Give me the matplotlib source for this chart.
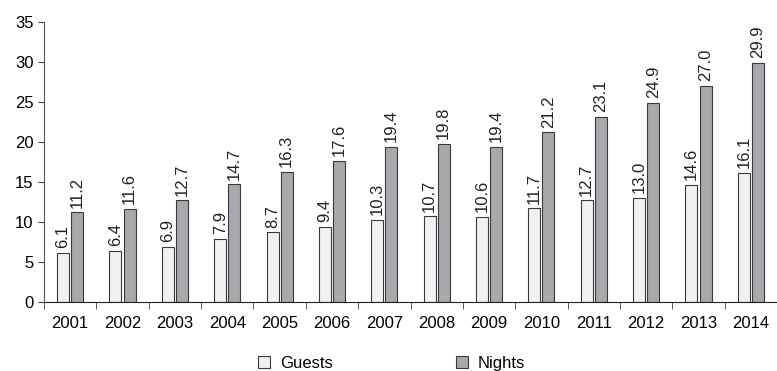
import numpy as np
import matplotlib.pyplot as plt
from matplotlib.ticker import FixedLocator

plt.rcParams['font.family'] = ['Liberation Sans', 'DejaVu Sans']

years = [str(y) for y in range(2001, 2015)]
guests = [6.1, 6.4, 6.9, 7.9, 8.7, 9.4, 10.3, 10.7, 10.6, 11.7, 12.7, 13.0, 14.6, 16.1]
nights = [11.2, 11.6, 12.7, 14.7, 16.3, 17.6, 19.4, 19.8, 19.4, 21.2, 23.1, 24.9, 27.0, 29.9]

fig = plt.figure(figsize=(7.77, 3.71), dpi=100)
ax = fig.add_axes([44 / 777, 1 - 302 / 371, 1 - 44 / 777, 280 / 371])

x = np.arange(len(years))
w = 0.23
b1 = ax.bar(x - 0.135, guests, w, color='#f0f1f2', edgecolor='#3a3a3a', lw=0.8, label='Guests')
b2 = ax.bar(x + 0.135, nights, w, color='#a8a9ad', edgecolor='#3a3a3a', lw=0.8, label='Nights')

for bars, vals in ((b1, guests), (b2, nights)):
    for r, v in zip(bars, vals):
        ax.text(r.get_x() + r.get_width() / 2, v + 0.6, f'{v:.1f}', rotation=90,
                ha='center', va='bottom', fontsize=12, color='#222222')

ax.set_xlim(-0.5, len(years) - 0.5)
ax.set_ylim(0, 35)
ax.set_yticks(range(0, 36, 5))
ax.set_xticks(x)
ax.set_xticklabels(years)
ax.xaxis.set_minor_locator(FixedLocator(np.arange(-0.5, len(years), 1.0)))
ax.tick_params(axis='x', which='major', length=0, pad=10, labelsize=12)
ax.tick_params(axis='x', which='minor', length=5, direction='out', color='#444444')
ax.tick_params(axis='y', length=4, direction='out', labelsize=12, color='#444444')

for s in ('top', 'right'):
    ax.spines[s].set_visible(False)
ax.spines['left'].set_color('#555555')
ax.spines['bottom'].set_color('#222222')

ax.legend(loc='center', bbox_to_anchor=(0.474, -0.22), ncol=2, frameon=False,
          fontsize=12, columnspacing=7.4, handlelength=0.7, handleheight=0.7, handletextpad=0.6)

fig.savefig('out.png', dpi=100)
